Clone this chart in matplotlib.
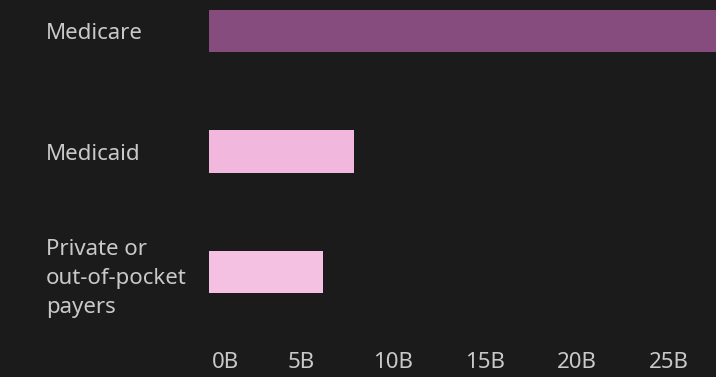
import matplotlib.pyplot as plt
import matplotlib.transforms as mtransforms

# data
categories = ["Medicare", "Medicaid", "Private or\nout-of-pocket\npayers"]
spending = [30.0, 7.9, 6.2]  # billions
bar_colors = ["#874c7e", "#f1b7dc", "#f4c1e2"]
tick_values = [0, 5, 10, 15, 20, 25]
tick_labels = ["0B", "5B", "10B", "15B", "20B", "25B"]

BG = "#1b1b1b"
TXT = "#c9c9c9"

plt.rcParams['font.family'] = ['Noto Sans', 'DejaVu Sans']

fig = plt.figure(figsize=(7.16, 3.77), dpi=100, facecolor=BG)
W, H = 716, 377
ax_left, ax_right, ax_top, ax_bottom = 209, 716, 0, 330
ax = fig.add_axes([ax_left / W, (H - ax_bottom) / H, (ax_right - ax_left) / W, (ax_bottom - ax_top) / H])
ax.set_facecolor(BG)

ypos = list(range(len(categories)))
ax.barh(ypos, spending, height=0.35, color=bar_colors)

# pixel-based limits: 92 px per 5B, rows 120.5 px apart, first row centred at 31 px
px_per_unit = 92 / 5
ax.set_xlim(0, (ax_right - ax_left) / px_per_unit)
row_px = 120.5
ax.set_ylim((ax_bottom - 31) / row_px, (ax_top - 31) / row_px)

for s in ax.spines.values():
    s.set_visible(False)

ax.set_xticks(tick_values)
ax.set_xticklabels(tick_labels)
ax.tick_params(axis='x', length=0, pad=16, labelsize=16, labelcolor=TXT)
lbls = ax.get_xticklabels()
lbls[0].set_horizontalalignment('left')
lbls[0].set_transform(lbls[0].get_transform() + mtransforms.ScaledTranslation(3 / 100, 0, fig.dpi_scale_trans))

ax.set_yticks(ypos)
ax.set_yticklabels(categories, ha='left', linespacing=1.5)
ax.tick_params(axis='y', length=0, pad=(ax_left - 46) * 72 / 100, labelsize=16, labelcolor=TXT)

fig.savefig("out.png", dpi=100, facecolor=BG)
